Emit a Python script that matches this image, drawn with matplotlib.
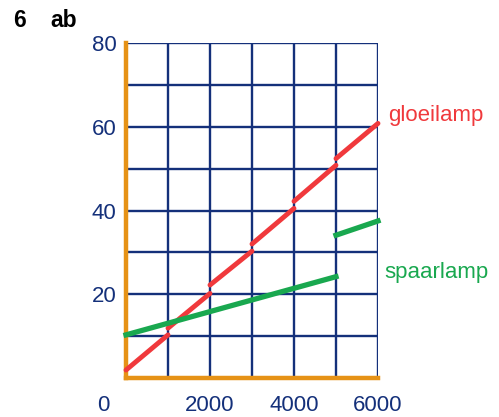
import matplotlib
matplotlib.use('Agg')
import matplotlib.pyplot as plt
import matplotlib.transforms as mtransforms

# energy use (x) against cost (y)
red_x0 = [0, 1000, 2000, 3000, 4000, 5000]
red_x1 = [1000, 2000, 3000, 4000, 5000, 6000]
red_y0 = [1.9, 11.9, 22.2, 32.0, 42.2, 52.4]
red_y1 = [10.3, 20.2, 30.3, 40.5, 50.8, 60.8]

green_a_x = [0, 5000]
green_a_y = [10.3, 24.2]
green_b_x = [5000, 6000]
green_b_y = [34.1, 37.5]

x_ticks = [0, 2000, 4000, 6000]
y_ticks = [20, 40, 60, 80]

NAVY = '#14307a'
ORANGE = '#e69216'
RED = '#f0393c'
GREEN = '#19a84f'

plt.rcParams['font.family'] = ['Liberation Sans', 'DejaVu Sans']

fig = plt.figure(figsize=(4.99, 4.17), dpi=100)
ax = fig.add_axes([0.2525, 0.0935, 0.505, 0.8034])

ax.set_xlim(0, 6000)
ax.set_ylim(0, 80)

# grid every 1000 / 10, drawn by hand so no line gets dropped
for gx in range(1000, 6001, 1000):
    ax.axvline(gx, color=NAVY, linewidth=1.7, zorder=1)
for gy in range(10, 81, 10):
    ax.axhline(gy, color=NAVY, linewidth=1.7, zorder=1)

ax.set_xticks(x_ticks)
ax.set_yticks(y_ticks)
ax.tick_params(length=0)
ax.tick_params(axis='x', pad=12, labelsize=16, labelcolor=NAVY)
ax.tick_params(axis='y', pad=7, labelsize=16, labelcolor=NAVY)

# shift the "0" label a bit to the left as in the original
lab0 = ax.get_xticklabels()[0]
lab0.set_transform(lab0.get_transform() +
                   mtransforms.ScaledTranslation(-16 / 72, 0, fig.dpi_scale_trans))

for side in ['top', 'right']:
    ax.spines[side].set_visible(False)
for side in ['left', 'bottom']:
    ax.spines[side].set_color(ORANGE)
    ax.spines[side].set_linewidth(3.2)
    ax.spines[side].set_zorder(5)

for xa, xb, ya, yb in zip(red_x0, red_x1, red_y0, red_y1):
    ax.plot([xa, xb], [ya, yb], color=RED, linewidth=3.5,
            solid_capstyle='round', clip_on=False, zorder=6)

ax.plot(green_a_x, green_a_y, color=GREEN, linewidth=3.8, clip_on=False, zorder=6)
ax.plot(green_b_x, green_b_y, color=GREEN, linewidth=3.8, clip_on=False, zorder=6)

ax.text(6240, 62.8, 'gloeilamp', color=RED, fontsize=16, va='center', ha='left')
ax.text(6150, 25.3, 'spaarlamp', color=GREEN, fontsize=16, va='center', ha='left')

fig.text(0.026, 0.95, '6', fontsize=16.5, fontweight='bold', color='black',
         va='center', ha='left')
fig.text(0.1, 0.95, 'ab', fontsize=16.5, fontweight='bold', color='black',
         va='center', ha='left')

plt.savefig('out.png', dpi=100)
plt.close()
